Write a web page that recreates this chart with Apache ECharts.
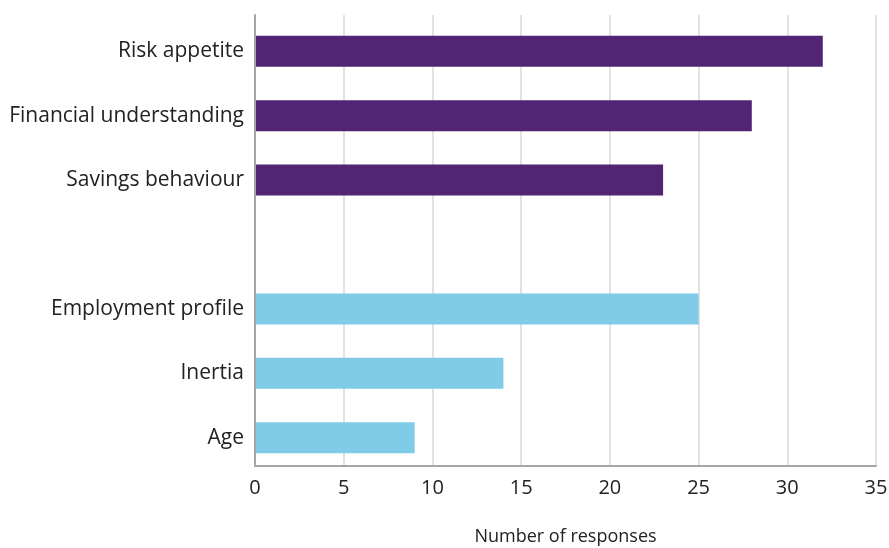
<!DOCTYPE html>
<html>
<head>
<meta charset="utf-8">
<style>
  html, body { margin: 0; padding: 0; background: #ffffff; }
  #chart { width: 889px; height: 548px; }
</style>
<script src="https://cdn.jsdelivr.net/npm/echarts@6/dist/echarts.min.js"></script>
</head>
<body>
<div id="chart"></div>
<script>
// Factors, top to bottom; the empty entry leaves a gap between the two groups
const categories = ['Risk appetite', 'Financial understanding', 'Savings behaviour', '', 'Employment profile', 'Inertia', 'Age'];
const responses = [32, 28, 23, null, 25, 14, 9];
// Which group each row belongs to (0 = upper group, 1 = lower group)
const groups = [0, 0, 0, null, 1, 1, 1];
const xTicks = { min: 0, max: 35, interval: 5 };
const xTitle = 'Number of responses';

const groupColors = ['#522574', '#80cbe8'];
const axisGrey = '#a6a6a6';
const gridGrey = '#d9d9d9';
const textColor = '#222222';
const fontFamily = '"Open Sans", "Noto Sans", sans-serif';

const barData = responses.map((v, i) => (v === null ? '-' : {
  value: v,
  itemStyle: { color: groupColors[groups[i]] }
}));

const chart = echarts.init(document.getElementById('chart'), null, { renderer: 'canvas' });
chart.setOption({
  animation: false,
  backgroundColor: '#ffffff',
  grid: [
    // frame: axis lines, ticks and gridlines
    { left: 255, right: 13, top: 15, bottom: 82, containLabel: false, outerBoundsMode: 'none' },
    // bars and category labels
    { left: 255, right: 13, top: 19, bottom: 78, containLabel: false, outerBoundsMode: 'none' }
  ],
  xAxis: [
    {
      gridIndex: 0,
      type: 'value',
      min: xTicks.min, max: xTicks.max, interval: xTicks.interval,
      axisLine: { show: true, lineStyle: { color: axisGrey, width: 2 } },
      axisTick: { show: false },
      splitLine: { show: true, lineStyle: { color: gridGrey, width: 1.5 } },
      axisLabel: { color: textColor, fontSize: 20, fontFamily: fontFamily, margin: 12 },
      name: xTitle,
      nameLocation: 'middle',
      nameGap: 71,
      nameMoveOverlap: false,
      nameTextStyle: { color: textColor, fontSize: 18, fontFamily: fontFamily, verticalAlign: 'middle' }
    },
    {
      gridIndex: 1,
      type: 'value',
      min: xTicks.min, max: xTicks.max,
      show: false
    }
  ],
  yAxis: [
    {
      gridIndex: 0,
      type: 'category',
      data: categories,
      inverse: true,
      axisLine: { show: true, lineStyle: { color: axisGrey, width: 2 } },
      axisTick: { show: false },
      axisLabel: { show: false },
      splitLine: { show: false },
      z: 3
    },
    {
      gridIndex: 1,
      type: 'category',
      data: categories,
      inverse: true,
      axisLine: { show: false },
      axisTick: { show: false },
      splitLine: { show: false },
      axisLabel: { color: textColor, fontSize: 21, fontFamily: fontFamily, margin: 11 }
    }
  ],
  series: [
    {
      type: 'bar',
      xAxisIndex: 1,
      yAxisIndex: 1,
      data: barData,
      barWidth: 31
    }
  ]
});
</script>
</body>
</html>
